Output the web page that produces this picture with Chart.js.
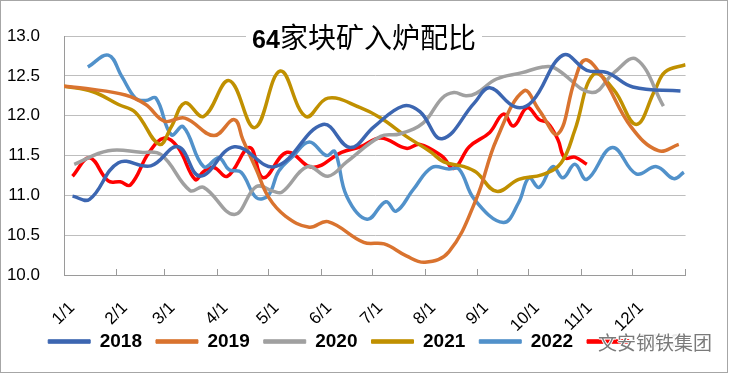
<!DOCTYPE html>
<html><head><meta charset="utf-8">
<script src="https://cdn.jsdelivr.net/npm/chart.js@4.4.1/dist/chart.umd.min.js"></script>
<style>
html,body{margin:0;padding:0;background:#fff;}
#frame{position:absolute;left:0;top:0;width:728px;height:373px;box-sizing:border-box;border:1px solid #A6A6A6;}
#wrap{position:absolute;left:0;top:0;width:729px;height:375px;}
#title{position:absolute;left:246px;top:20px;width:236px;height:32px;background:#fff;text-align:center;line-height:32px;color:#000;white-space:nowrap;font-family:"Noto Sans CJK SC";font-size:28px;}
#title b{font-family:"Liberation Sans";font-size:25px;font-weight:bold;}
#wm{position:absolute;left:598px;top:329px;font-family:"Noto Sans CJK SC";font-size:19px;line-height:26px;color:#7a7a7a;white-space:nowrap;
 text-shadow:1px 0 #fff,-1px 0 #fff,0 1px #fff,0 -1px #fff;}
#wm .bg{background:rgba(255,255,255,0.92);}
</style></head>
<body>
<div id="frame"></div>
<div id="wrap"><canvas id="c" width="729" height="375"></canvas></div>
<div id="title"><b>64</b>家块矿入炉配比</div>
<div id="wm">文安<span class="bg">钢铁集团</span></div>
<script>
// x positions are day-of-year (0 = 1/1)
const monthStartDays = [0,31,59,90,120,151,181,212,243,273,304,334,365];
const tickLabels = ['1/1','2/1','3/1','4/1','5/1','6/1','7/1','8/1','9/1','10/1','11/1','12/1',''];
const years = ['2018','2019','2020','2021','2022','2023'];

const days2018 = [5,15,32,51,67,80,100,124,152,168,182,199,209,222,241,250,265,275,293,307,319,334,362];
const ratio2018 = [10.99,10.95,11.41,11.37,11.61,11.24,11.61,11.36,11.89,11.60,11.86,12.12,12.05,11.71,12.16,12.35,12.11,12.18,12.76,12.57,12.54,12.36,12.31];

const days2019 = [0,13,36,48,59,71,88,100,105,113,120,130,144,155,176,188,201,212,226,242,254,270,279,290,300,306,316,333,349,361];
const ratio2019 = [12.37,12.34,12.26,12.14,11.93,11.97,11.75,11.95,11.70,11.32,10.98,10.74,10.60,10.67,10.41,10.39,10.24,10.16,10.29,10.95,11.70,12.31,12.07,11.77,12.45,12.70,12.49,11.86,11.56,11.64];

const days2020 = [6,26,45,57,74,82,100,113,123,128,143,155,166,186,197,211,222,229,236,242,254,269,281,288,310,323,336,352];
const ratio2020 = [11.39,11.56,11.54,11.51,11.06,11.10,10.76,11.11,11.05,11.04,11.36,11.24,11.42,11.74,11.77,11.91,12.22,12.29,12.25,12.28,12.46,12.54,12.61,12.60,12.29,12.54,12.71,12.12];

const days2021 = [0,17,32,42,56,63,71,82,97,112,127,142,155,174,186,201,215,223,235,242,254,267,281,292,300,311,323,336,347,353,365];
const ratio2021 = [12.37,12.30,12.14,12.04,11.64,11.86,12.16,11.99,12.44,11.85,12.56,11.99,12.22,12.10,11.97,11.74,11.55,11.42,11.36,11.29,11.05,11.20,11.26,11.41,11.82,12.52,12.32,11.89,12.32,12.55,12.64];

const days2022 = [14,26,34,42,48,54,63,70,82,91,97,104,113,120,126,134,144,154,159,166,178,189,195,205,216,226,232,241,258,267,273,279,287,293,300,307,322,336,348,358,364];
const ratio2022 = [12.61,12.76,12.49,12.22,12.19,12.22,11.76,11.86,11.36,11.47,11.32,11.29,10.97,11.00,11.30,11.48,11.67,11.50,11.55,10.99,10.70,10.92,10.80,11.07,11.35,11.33,11.33,10.95,10.66,10.91,11.22,11.10,11.36,11.22,11.39,11.20,11.60,11.27,11.36,11.21,11.29];

const days2023 = [5,15,26,33,39,50,59,67,77,82,88,96,109,117,131,146,163,174,186,201,209,222,229,238,250,258,264,272,279,284,290,294,300,307];
const ratio2023 = [11.24,11.47,11.18,11.17,11.13,11.54,11.72,11.60,11.20,11.30,11.35,11.24,11.60,11.22,11.54,11.35,11.54,11.61,11.72,11.59,11.64,11.49,11.34,11.61,11.79,12.02,11.87,12.10,11.95,11.91,11.70,11.47,11.48,11.39];

const seriesDays = [days2018,days2019,days2020,days2021,days2022,days2023];
const seriesVals = [ratio2018,ratio2019,ratio2020,ratio2021,ratio2022,ratio2023];
const colors = ['#3C66B1','#D9732F','#A0A0A0','#C09000','#5191CA','#FF0000'];

const datasets = years.map((y,i)=>({
  label: y,
  data: seriesDays[i].map((d,j)=>({x:d, y:seriesVals[i][j]})),
  borderColor: colors[i],
  backgroundColor: colors[i],
  borderWidth: 3.5,
  pointRadius: 0,
  tension: 0.4,
  fill: false
}));

const legendShift = {
  id: 'legendShift',
  afterLayout(chart) {
    if (chart.legend) { chart.legend.top -= 27; chart.legend.bottom -= 27; }
  }
};

new Chart(document.getElementById('c'), {
  type: 'line',
  data: { datasets },
  plugins: [legendShift],
  options: {
    responsive: false,
    animation: false,
    events: [],
    layout: { padding: { left: 0, right: 0, top: 36, bottom: -13 } },
    plugins: {
      title: { display: false },
      tooltip: { enabled: false },
      legend: {
        display: true,
        position: 'bottom',
        labels: {
          boxWidth: 42,
          boxHeight: 3.5,
          padding: 14,
          color: '#000',
          font: { family: 'Liberation Sans', size: 19, weight: 'bold' },
          generateLabels: chart => chart.data.datasets.map((ds,i)=>({
            text: ds.label, fillStyle: ds.borderColor, strokeStyle: ds.borderColor,
            lineWidth: 1, hidden: false, datasetIndex: i, fontColor: '#000'
          }))
        }
      }
    },
    scales: {
      x: {
        type: 'linear',
        min: 0, max: 365,
        afterBuildTicks: s => { s.ticks = monthStartDays.map(v=>({value:v})); },
        afterFit: s => { s.height = 70; },
        grid: { display: true, drawOnChartArea: false, drawTicks: true, tickLength: -6, color: '#9A9A9A', lineWidth: 1 },
        border: { display: true, color: '#9A9A9A', width: 1 },
        ticks: {
          autoSkip: false,
          minRotation: 45, maxRotation: 45,
          padding: 29,
          labelOffset: 8,
          color: '#000',
          font: { family: 'Liberation Sans', size: 17 },
          callback: (v) => { const k = monthStartDays.indexOf(v); return k >= 0 ? tickLabels[k] : ''; }
        }
      },
      y: {
        min: 10, max: 13,
        afterFit: s => { s.width = 64; },
        grid: { color: '#BEBEBE', lineWidth: 1, drawTicks: false },
        border: { display: true, color: '#9A9A9A', width: 1 },
        ticks: {
          stepSize: 0.5,
          padding: 24,
          color: '#000',
          font: { family: 'Liberation Sans', size: 17 },
          callback: v => Number(v).toFixed(1)
        }
      },
      yRight: {
        position: 'right',
        display: true,
        afterFit: s => { s.width = 31; },
        grid: { display: false, drawTicks: false },
        border: { display: false },
        ticks: { display: false }
      }
    }
  }
});
</script>
</body></html>
